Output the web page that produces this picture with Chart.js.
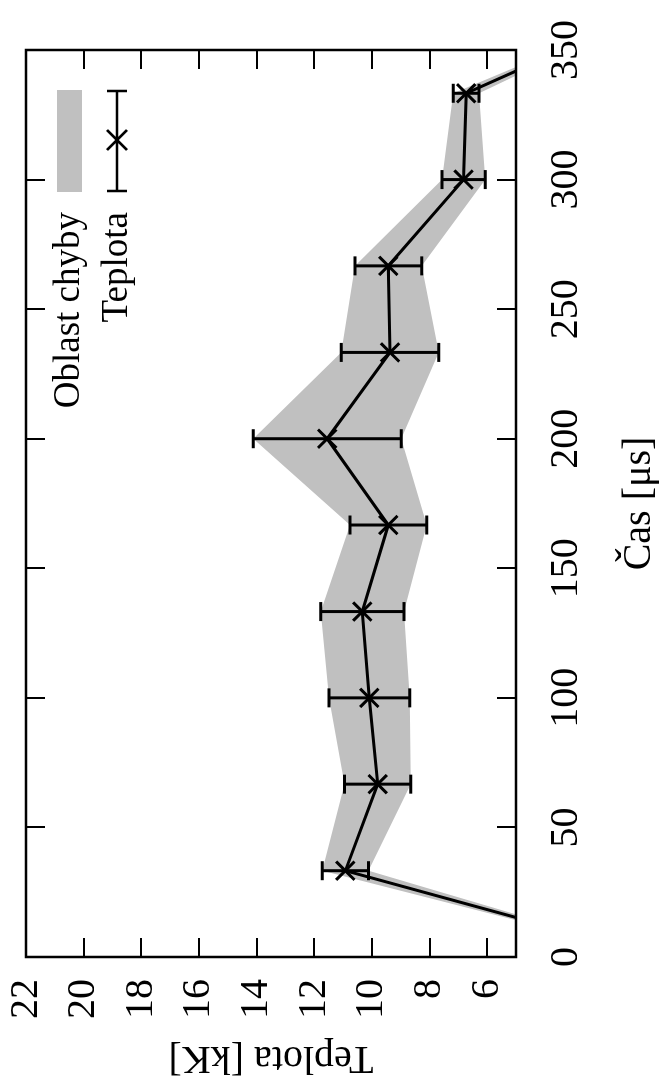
<!DOCTYPE html>
<html>
<head>
<meta charset="utf-8">
<script src="https://cdn.jsdelivr.net/npm/chart.js@4/dist/chart.umd.min.js"></script>
<style>
  html, body { margin: 0; padding: 0; background: #fff; overflow: hidden; }
  #wrap {
    position: absolute; left: 0; top: 0;
    width: 1082px; height: 665px;
    transform-origin: 0 0;
    transform: translate(0, 1082px) rotate(-90deg);
  }
</style>
</head>
<body>
<div id="wrap"><canvas id="myChart" width="1082" height="665"></canvas></div>
<script>
// time [us], temperature [kK] and its error
var times = [0, 33.3, 66.7, 100, 133.3, 166.7, 200, 233.3, 266.7, 300, 333.3, 366.7];
var temps = [0, 10.92, 9.80, 10.09, 10.33, 9.43, 11.55, 9.37, 9.43, 6.82, 6.73, 0];
var errs  = [0, 0.80, 1.15, 1.40, 1.44, 1.33, 2.57, 1.69, 1.16, 0.75, 0.45, 0];

var xTicks = [0, 50, 100, 150, 200, 250, 300, 350];
var yTicks = [6, 8, 10, 12, 14, 16, 18, 20, 22];

var seriesName = "Teplota";
var bandName = "Oblast chyby";
var xTitle = "Čas [μs]";
var yTitle = "Teplota [kK]";

var FONT = "Liberation Serif";
var GRAY = "#c0c0c0";

var mainPts = times.map(function(t, i) { return { x: t, y: temps[i] }; });
var lowPts = times.map(function(t, i) { return { x: t, y: temps[i] - errs[i] }; });
var highPts = times.map(function(t, i) { return { x: t, y: temps[i] + errs[i] }; });

// frame, inward ticks on all four sides, error bars, key
var gnuplotLook = {
  id: "gnuplotLook",
  afterDatasetsDraw: function(chart) {
    var ctx = chart.ctx;
    var xs = chart.scales.x, ys = chart.scales.y;
    var a = chart.chartArea;
    ctx.save();
    ctx.beginPath();
    ctx.rect(a.left, a.top, a.right - a.left, a.bottom - a.top);
    ctx.clip();
    ctx.strokeStyle = "#000";
    ctx.lineWidth = 3;
    for (var i = 0; i < times.length; i++) {
      if (!errs[i]) continue;
      var px = xs.getPixelForValue(times[i]);
      var p1 = ys.getPixelForValue(temps[i] - errs[i]);
      var p2 = ys.getPixelForValue(temps[i] + errs[i]);
      ctx.beginPath();
      ctx.moveTo(px, p1); ctx.lineTo(px, p2);
      ctx.moveTo(px - 9.5, p1); ctx.lineTo(px + 9.5, p1);
      ctx.moveTo(px - 9.5, p2); ctx.lineTo(px + 9.5, p2);
      ctx.stroke();
    }
    ctx.restore();
  },
  afterDraw: function(chart) {
    var ctx = chart.ctx;
    var xs = chart.scales.x, ys = chart.scales.y;
    var a = chart.chartArea;
    var tl = 19;
    ctx.save();
    ctx.strokeStyle = "#000";
    ctx.lineWidth = 2;
    ctx.beginPath();
    xTicks.forEach(function(v) {
      var px = Math.round(xs.getPixelForValue(v));
      ctx.moveTo(px, a.bottom); ctx.lineTo(px, a.bottom - tl);
      ctx.moveTo(px, a.top); ctx.lineTo(px, a.top + tl);
    });
    yTicks.forEach(function(v) {
      var py = Math.round(ys.getPixelForValue(v));
      ctx.moveTo(a.left, py); ctx.lineTo(a.left + tl, py);
      ctx.moveTo(a.right, py); ctx.lineTo(a.right - tl, py);
    });
    ctx.stroke();
    ctx.lineWidth = 2.5;
    ctx.strokeRect(a.left, a.top, a.right - a.left, a.bottom - a.top);

    // key
    ctx.fillStyle = GRAY;
    ctx.fillRect(890, 57, 102, 25);
    ctx.lineWidth = 2.5;
    ctx.beginPath();
    ctx.moveTo(891, 117); ctx.lineTo(991, 117);
    ctx.moveTo(891, 107); ctx.lineTo(891, 127);
    ctx.moveTo(991, 107); ctx.lineTo(991, 127);
    ctx.moveTo(932, 107); ctx.lineTo(952, 127);
    ctx.moveTo(952, 107); ctx.lineTo(932, 127);
    ctx.stroke();
    ctx.fillStyle = "#000";
    ctx.font = "37px '" + FONT + "'";
    ctx.textAlign = "right";
    ctx.textBaseline = "middle";
    ctx.fillText(bandName, 870, 69);
    ctx.fillText(seriesName, 870, 117);
    ctx.restore();
  }
};

var ctx = document.getElementById("myChart").getContext("2d");
var myChart = new Chart(ctx, {
  type: "line",
  data: {
    datasets: [
      {
        label: seriesName,
        data: mainPts,
        borderColor: "#000",
        borderWidth: 3,
        pointStyle: "crossRot",
        pointRadius: 13,
        pointBorderWidth: 3,
        pointBorderColor: "#000",
        fill: false,
        tension: 0
      },
      {
        label: "low",
        data: lowPts,
        borderWidth: 0,
        borderColor: "rgba(0,0,0,0)",
        pointRadius: 0,
        fill: false
      },
      {
        label: bandName,
        data: highPts,
        borderWidth: 0,
        borderColor: "rgba(0,0,0,0)",
        backgroundColor: GRAY,
        pointRadius: 0,
        fill: "-1"
      }
    ]
  },
  options: {
    responsive: false,
    animation: false,
    devicePixelRatio: 1,
    layout: { padding: { top: 26, right: 50, left: 0, bottom: 0 } },
    plugins: {
      legend: { display: false },
      tooltip: { enabled: false }
    },
    scales: {
      x: {
        type: "linear",
        min: 0,
        max: 350,
        afterBuildTicks: function(scale) {
          scale.ticks = xTicks.map(function(v) { return { value: v }; });
        },
        afterFit: function(scale) {
          scale.height = 149;
          scale.paddingLeft = 0;
          scale.paddingRight = 0;
        },
        grid: { display: false, drawTicks: false },
        border: { display: false },
        ticks: {
          color: "#000",
          padding: 26,
          maxRotation: 0,
          autoSkip: false,
          font: { family: FONT, size: 40 }
        },
        title: {
          display: true,
          text: xTitle,
          color: "#000",
          padding: { top: 0, bottom: 2 },
          font: { family: FONT, size: 40 }
        }
      },
      y: {
        type: "linear",
        min: 5,
        max: 22,
        afterBuildTicks: function(scale) {
          scale.ticks = yTicks.map(function(v) { return { value: v }; });
        },
        afterFit: function(scale) {
          scale.width = 125;
          scale.paddingTop = 0;
          scale.paddingBottom = 0;
        },
        grid: { display: false, drawTicks: false },
        border: { display: false },
        ticks: {
          color: "#000",
          padding: 22,
          autoSkip: false,
          font: { family: FONT, size: 40 }
        },
        title: {
          display: true,
          text: yTitle,
          color: "#000",
          padding: { top: 0, bottom: 0 },
          font: { family: FONT, size: 40 }
        }
      }
    }
  },
  plugins: [gnuplotLook]
});
</script>
</body>
</html>
